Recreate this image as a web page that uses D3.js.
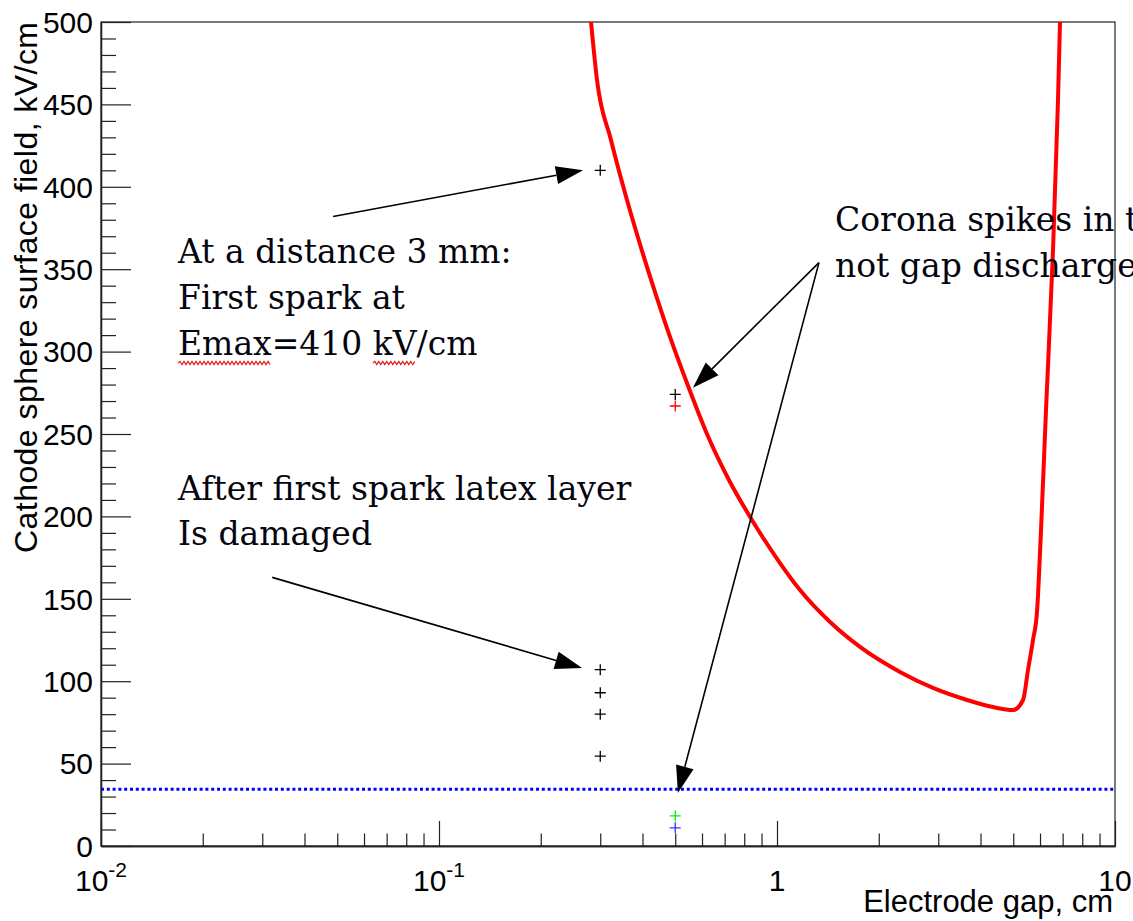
<!DOCTYPE html>
<html>
<head>
<meta charset="utf-8">
<script src="https://cdn.jsdelivr.net/npm/d3@7"></script>
<style>
  html, body { margin: 0; padding: 0; background: #fff; overflow: hidden; }
  svg { display: block; }
</style>
</head>
<body>
<svg id="chart" width="1133" height="921"></svg>
<script>
// Breakdown threshold curve: cathode sphere surface field vs electrode gap
const curveGap   = [0.2817, 0.2934, 0.3227, 0.3599, 0.4014, 0.4415, 0.4825, 0.5528, 0.6207, 0.726, 0.8432, 1.0207, 1.1696, 1.4355, 1.7603, 2.311, 2.894, 3.649, 4.357, 4.992, 5.344, 5.529, 5.72, 5.878, 6.041, 6.250, 6.555, 6.782, 6.875];
const curveField = [500,    464.8,  428.4,  392.0,  359.2,  332.5,  308.9,  276.1,  250.0,  220.9, 197.8,  171.7,  155.3,  135.9,  120.8,  105.6, 95.9,  88.6,  84.3,  82.5,  88.6,  106.8, 125.0, 142.0, 191.7, 264.6, 361.7, 452.7, 500];

// Measured spark / spike points
const pointGap   = [0.3, 0.3, 0.3, 0.3, 0.3, 0.5, 0.5, 0.5, 0.5];
const pointField = [410, 107, 93, 80, 54.5, 274, 267, 18.3, 11];
const pointColor = ["#000", "#000", "#000", "#000", "#000", "#000", "#ff0000", "#00ee00", "#3333ff"];

// Horizontal threshold level (kV/cm)
const thresholdField = 34.5;

// Axis ticks
const yTickValues = [0, 50, 100, 150, 200, 250, 300, 350, 400, 450, 500];
const yTickLabels = ["0", "50", "100", "150", "200", "250", "300", "350", "400", "450", "500"];
const xTickValues = [0.01, 0.1, 1, 10];
const xTickBase   = ["10", "10", "1", "10"];
const xTickExp    = ["-2", "-1", "", ""];

// Annotation arrows (data coordinates)
const arrowFromGap   = [0.0486, 0.0321, 1.331, 1.331];
const arrowFromField = [382, 163, 354, 354];
const arrowToGap     = [0.2667, 0.265, 0.564, 0.509];
const arrowToField   = [410, 108, 278, 32.2];

// Annotation text
const noteSpark   = ["At a distance 3 mm:", "First spark at", "Emax=410 kV/cm"];
const noteLatex   = ["After first spark latex layer", "Is damaged"];
const noteCorona  = ["Corona spikes in the", "not gap discharge"];

const plot = { left: 101, top: 22, right: 1115, bottom: 846 };
const sans = "'Liberation Sans', Arial, Helvetica, sans-serif";
const serif = "'DejaVu Serif', serif";

const svg = d3.select("#chart");

const x = d3.scaleLog().domain([0.01, 10]).range([plot.left, plot.right]);
const y = d3.scaleLinear().domain([0, 500]).range([plot.bottom, plot.top]);

svg.append("defs").append("clipPath").attr("id", "plotClip")
  .append("rect")
  .attr("x", plot.left).attr("y", plot.top)
  .attr("width", plot.right - plot.left).attr("height", plot.bottom - plot.top);

// ---- axes ----
const yMinor = d3.range(0, 501, 10).filter(v => v % 50 !== 0);
const gyMinor = svg.append("g").attr("transform", `translate(${plot.left},0)`)
  .call(d3.axisLeft(y).tickValues(yMinor).tickSize(-15).tickSizeOuter(0).tickFormat(""));
const gy = svg.append("g").attr("transform", `translate(${plot.left},0)`)
  .call(d3.axisLeft(y).tickValues(yTickValues).tickSize(-30).tickSizeOuter(0).tickPadding(8)
    .tickFormat((d, i) => yTickLabels[i]));
gy.selectAll("text").attr("font-family", sans).attr("font-size", 30).attr("fill", "#000").attr("dy", "0.34em");

const xMinor = [];
[0.01, 0.1, 1].forEach(d => { for (let k = 2; k <= 9; k++) xMinor.push(d * k); });
const gxMinor = svg.append("g").attr("transform", `translate(0,${plot.bottom})`)
  .call(d3.axisBottom(x).tickValues(xMinor).tickSize(-12.5).tickSizeOuter(0).tickFormat(""));
const gx = svg.append("g").attr("transform", `translate(0,${plot.bottom})`)
  .call(d3.axisBottom(x).tickValues(xTickValues).tickSize(-25).tickSizeOuter(0).tickFormat(""));

[gyMinor, gy, gxMinor, gx].forEach(g => {
  g.selectAll("line").attr("stroke", "#222").attr("stroke-width", 1.2);
  g.select(".domain").attr("stroke", "#222").attr("stroke-width", 1.3);
});

// x tick labels with superscript exponents
xTickValues.forEach((v, i) => {
  const t = svg.append("text")
    .attr("x", x(v)).attr("y", 891)
    .attr("text-anchor", "middle")
    .attr("font-family", sans).attr("font-size", 30).attr("fill", "#000");
  t.append("tspan").text(xTickBase[i]);
  if (xTickExp[i]) {
    t.append("tspan").attr("dy", -14).attr("font-size", 21).text(xTickExp[i]);
  }
});

// frame
svg.append("rect")
  .attr("x", plot.left).attr("y", plot.top)
  .attr("width", plot.right - plot.left).attr("height", plot.bottom - plot.top)
  .attr("fill", "none").attr("stroke", "#222").attr("stroke-width", 1.2);

// axis titles
svg.append("text")
  .attr("x", 1113).attr("y", 912)
  .attr("text-anchor", "end")
  .attr("font-family", sans).attr("font-size", 31).attr("fill", "#000")
  .text("Electrode gap, cm");

svg.append("text")
  .attr("transform", `translate(37,${plot.top}) rotate(-90)`)
  .attr("text-anchor", "end")
  .attr("font-family", sans).attr("font-size", 32).attr("fill", "#000")
  .attr("textLength", 531).attr("lengthAdjust", "spacing")
  .text("Cathode sphere surface field, kV/cm");

// ---- data marks ----
const marks = svg.append("g").attr("clip-path", "url(#plotClip)");

// threshold line
marks.append("line")
  .attr("x1", x(0.01)).attr("x2", x(10))
  .attr("y1", y(thresholdField)).attr("y2", y(thresholdField))
  .attr("stroke", "#0000ff").attr("stroke-width", 3)
  .attr("stroke-dasharray", "3,2.8");

// breakdown curve
const curvePts = curveGap.map((g, i) => [x(g), y(curveField[i])]);
marks.append("path")
  .attr("d", d3.line().curve(d3.curveMonotoneX)(curvePts))
  .attr("fill", "none").attr("stroke", "#ff0000").attr("stroke-width", 4)
  .attr("stroke-linejoin", "round").attr("stroke-linecap", "round");

// measured points as "+" markers
const arm = 5.5;
marks.selectAll("path.pt").data(pointGap.map((g, i) => i)).join("path")
  .attr("class", "pt")
  .attr("d", i => {
    const cx = x(pointGap[i]), cy = y(pointField[i]);
    return `M${cx - arm},${cy}H${cx + arm}M${cx},${cy - arm}V${cy + arm}`;
  })
  .attr("stroke", i => pointColor[i]).attr("stroke-width", 1.3).attr("fill", "none");

// ---- annotations ----
const headLen = 27, headHalf = 9;
const arrows = svg.append("g");
arrowFromGap.forEach((g, i) => {
  const x0 = x(g), y0 = y(arrowFromField[i]);
  const x1 = x(arrowToGap[i]), y1 = y(arrowToField[i]);
  const dx = x1 - x0, dy = y1 - y0, len = Math.hypot(dx, dy);
  const ux = dx / len, uy = dy / len, nx = -uy, ny = ux;
  const bx = x1 - ux * headLen, by = y1 - uy * headLen;
  arrows.append("line")
    .attr("x1", x0).attr("y1", y0).attr("x2", bx).attr("y2", by)
    .attr("stroke", "#000").attr("stroke-width", 1.6);
  arrows.append("path")
    .attr("d", `M${x1},${y1}L${bx + nx * headHalf},${by + ny * headHalf}L${bx - nx * headHalf},${by - ny * headHalf}Z`)
    .attr("fill", "#000");
});

function noteBlock(lines, left, firstBaseline, step) {
  return lines.map((s, i) => svg.append("text")
    .attr("x", left).attr("y", firstBaseline + i * step)
    .attr("font-family", serif).attr("font-size", 33).attr("fill", "#05050f")
    .text(s));
}

const sparkText = noteBlock(noteSpark, 178, 263, 46);
noteBlock(noteLatex, 178, 500, 45);
noteBlock(noteCorona, 835, 231, 46);

// spell-check style wavy underline under "Emax" and "kV"
function wavy(x0, x1, yb) {
  let d = `M${x0},${yb}`, up = true;
  for (let xx = x0 + 2; xx <= x1; xx += 2) { d += `L${xx},${yb + (up ? -1.6 : 1.6)}`; up = !up; }
  return d;
}
const emaxNode = sparkText[2].node();
[[0, 3], [9, 10]].forEach(([a, b]) => {
  const ea = emaxNode.getExtentOfChar(a), eb = emaxNode.getExtentOfChar(b);
  svg.append("path")
    .attr("d", wavy(ea.x, eb.x + eb.width, 263 + 2 * 46 + 8))
    .attr("fill", "none").attr("stroke", "#e02020").attr("stroke-width", 1.1);
});
</script>
</body>
</html>
